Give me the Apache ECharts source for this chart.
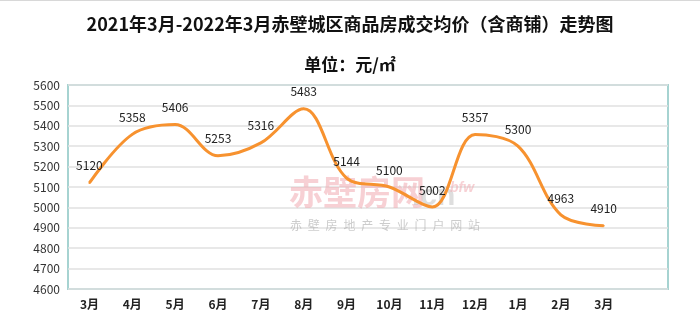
<!DOCTYPE html>
<html>
<head>
<meta charset="utf-8">
<script src="https://cdn.jsdelivr.net/npm/echarts@6/dist/echarts.min.js"></script>
<style>
html,body{margin:0;padding:0;background:#fff;}
#c{width:700px;height:332px;}
</style>
</head>
<body>
<div id="c"></div>
<script>
var categories = ['3月','4月','5月','6月','7月','8月','9月','10月','11月','12月','1月','2月','3月',''];
var prices = [5120,5358,5406,5253,5316,5483,5144,5100,5002,5357,5300,4963,4910];
var titleText = '2021年3月-2022年3月赤壁城区商品房成交均价（含商铺）走势图';
var subtitleText = '单位：元/㎡';
var yMin = 4600, yMax = 5600, yStep = 100;

var FONT = '"Noto Sans CJK SC", "Noto Sans", sans-serif';
var chart = echarts.init(document.getElementById('c'), null, {renderer:'canvas'});

var subChars = '赤壁房地产专业门户网站'.split('');
var graphics = [
  {type:'rect', left:0, top:0, shape:{width:700, height:1}, style:{fill:'#d8d8d8'}, silent:true},
  {type:'text', left:289, top:175, z:1, silent:true,
   style:{text:'赤壁房网', font:'bold 34px ' + FONT, fill:'rgba(240,170,176,0.55)'}},
  {type:'text', left:412, top:182, z:1, silent:true,
   style:{text:'.cn', font:'bold 30px Arial, sans-serif', fill:'rgba(200,200,200,0.6)'}},
  {type:'text', left:450, top:181, z:1, silent:true,
   style:{text:'bfw', font:'italic bold 14px Arial, sans-serif', fill:'rgba(240,170,176,0.55)'}}
];
subChars.forEach(function(ch, i){
  graphics.push({type:'text', left:290 + i*17.8, top:219, z:1, silent:true,
    style:{text:ch, font:'12px ' + FONT, fill:'rgba(170,170,170,0.6)'}});
});

chart.setOption({
  backgroundColor:'#fff',
  animation:false,
  title:[
    {text:titleText, left:'center', top:10,
     textStyle:{fontFamily:FONT, fontSize:18, fontWeight:'bold', color:'#111'}},
    {text:subtitleText, left:'center', top:51,
     textStyle:{fontFamily:FONT, fontSize:17, fontWeight:'bold', color:'#111'}}
  ],
  graphic: graphics,
  grid:{left:68, right:32, top:85, bottom:43, show:true, borderColor:'#a6d3d1', borderWidth:2, backgroundColor:'transparent', z:0},
  xAxis:{
    type:'category', data:categories, boundaryGap:true,
    axisLine:{show:false}, axisTick:{show:false},
    axisLabel:{fontFamily:FONT, fontSize:12, fontWeight:'bold', color:'#222', margin:9, interval:0}
  },
  yAxis:{
    type:'value', min:yMin, max:yMax, interval:yStep,
    axisLine:{show:false}, axisTick:{show:false},
    axisLabel:{fontFamily:FONT, fontSize:12, color:'#333', margin:8, formatter:function(v){return String(v);}},
    splitLine:{show:true, lineStyle:{color:'#e0e0e0', width:1.5}}
  },
  series:[{
    type:'line', data:prices, smooth:0.35, symbol:'circle', symbolSize:2, showSymbol:true, showAllSymbol:true, z:3,
    itemStyle:{color:'#f7922f'},
    lineStyle:{color:'#f7922f', width:3},
    label:{show:true, position:'top', distance:10, fontFamily:FONT, fontSize:12, color:'#222'}
  }]
});
</script>
</body>
</html>
